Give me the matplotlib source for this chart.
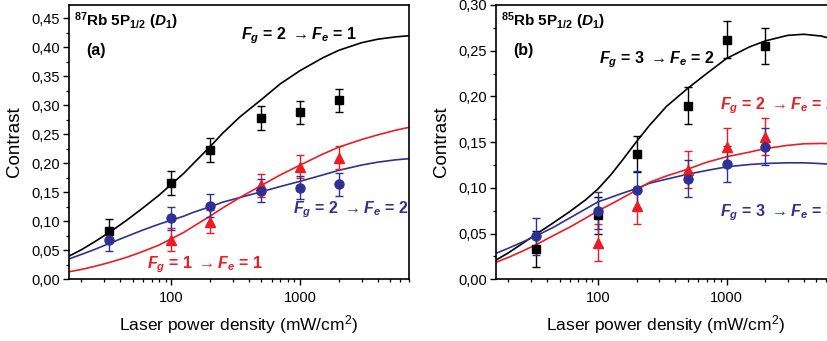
import matplotlib
matplotlib.use("Agg")
import matplotlib.pyplot as plt
from matplotlib.ticker import FuncFormatter, MultipleLocator, LogLocator, NullFormatter

plt.rcParams['font.family'] = ['Liberation Sans', 'DejaVu Sans']
plt.rcParams['mathtext.fontset'] = 'custom'
plt.rcParams['mathtext.rm'] = 'Liberation Sans:bold'
plt.rcParams['mathtext.bf'] = 'Liberation Sans:bold'
plt.rcParams['mathtext.it'] = 'Liberation Sans:bold:italic'

BLACK = '#000000'
RED = '#ed1c24'
BLUE = '#2e3192'

# ---- measured points: laser power density (mW/cm^2) ----
power = [33, 100, 200, 500, 1000, 2000]
power_no33 = [100, 200, 500, 1000, 2000]

# 87Rb, panel (a)
a_f21 = [0.084, 0.166, 0.223, 0.278, 0.288, 0.309]
a_f21_err = [0.020, 0.020, 0.020, 0.020, 0.020, 0.020]
a_f22 = [0.068, 0.105, 0.127, 0.153, 0.158, 0.164]
a_f22_err = [0.020, 0.020, 0.020, 0.020, 0.020, 0.020]
a_f11 = [0.068, 0.099, 0.162, 0.194, 0.210]
a_f11_err = [0.020, 0.020, 0.020, 0.020, 0.020]

# 85Rb, panel (b)
b_f32 = [0.033, 0.070, 0.137, 0.190, 0.262, 0.255]
b_f32_err = [0.020, 0.020, 0.020, 0.020, 0.020, 0.020]
b_f33 = [0.047, 0.075, 0.098, 0.110, 0.126, 0.145]
b_f33_err = [0.020, 0.020, 0.020, 0.020, 0.020, 0.020]
b_f22 = [0.040, 0.080, 0.120, 0.145, 0.156]
b_f22_err = [0.020, 0.020, 0.020, 0.020, 0.020]

# ---- model curves, sampled ----
curve_x = [16, 20, 25, 33, 45, 60, 80, 100, 125, 150, 200, 250, 340, 500, 700,
           1000, 1500, 2000, 3000, 4000, 5500, 7000]
a_fit21 = [0.040, 0.051, 0.064, 0.081, 0.102, 0.123, 0.145, 0.164, 0.183, 0.201,
           0.229, 0.252, 0.280, 0.310, 0.337, 0.360, 0.382, 0.395, 0.408,
           0.414, 0.418, 0.420]
a_fit22 = [0.035, 0.043, 0.051, 0.062, 0.074, 0.085, 0.095, 0.102, 0.109, 0.116,
           0.125, 0.133, 0.141, 0.151, 0.160, 0.169, 0.180, 0.188, 0.197,
           0.202, 0.206, 0.208]
a_fit11 = [0.013, 0.017, 0.022, 0.029, 0.038, 0.048, 0.059, 0.070, 0.081, 0.092,
           0.109, 0.123, 0.141, 0.162, 0.180, 0.197, 0.216, 0.228, 0.241,
           0.249, 0.257, 0.262]
b_fit32 = [0.021, 0.029, 0.038, 0.0495, 0.062, 0.074, 0.087, 0.099, 0.114, 0.128,
           0.151, 0.168, 0.189, 0.209, 0.225, 0.2415, 0.254, 0.2607, 0.2668,
           0.2680, 0.2660, 0.2620]
b_fit33 = [0.0284, 0.034, 0.040, 0.0476, 0.057, 0.067, 0.077, 0.0848, 0.0895,
           0.0935, 0.0994, 0.105, 0.1095, 0.115, 0.119, 0.123, 0.1255, 0.1267,
           0.1274, 0.1274, 0.1265, 0.1255]
b_fit22 = [0.0186, 0.024, 0.030, 0.038, 0.048, 0.057, 0.067, 0.075, 0.082,
           0.088, 0.0976, 0.106, 0.113, 0.1205, 0.128, 0.134, 0.139, 0.143,
           0.1465, 0.1482, 0.1486, 0.1482]

fig = plt.figure(figsize=(8.27, 3.41), dpi=100)
W, H = 827.0, 341.0
bottom = 1 - 279.3 / H
height = (279.3 - 5.0) / H
ax_a = fig.add_axes([69 / W, bottom, (409 - 69) / W, height])
ax_b = fig.add_axes([496 / W, bottom, (835 - 496) / W, height])

comma_fmt = FuncFormatter(lambda v, p: f"{v:.2f}".replace('.', ','))
int_fmt = FuncFormatter(lambda v, p: f"{v:.0f}")


def style_axes(ax, ymax):
    ax.set_xscale('log')
    ax.set_xlim(16, 7000)
    ax.set_ylim(0, ymax)
    ax.yaxis.set_major_locator(MultipleLocator(0.05))
    ax.yaxis.set_minor_locator(MultipleLocator(0.025))
    ax.yaxis.set_major_formatter(comma_fmt)
    ax.xaxis.set_major_locator(LogLocator(base=10, numticks=10))
    ax.xaxis.set_minor_locator(LogLocator(base=10, subs=range(2, 10), numticks=20))
    ax.xaxis.set_major_formatter(int_fmt)
    ax.xaxis.set_minor_formatter(NullFormatter())
    ax.tick_params(which='major', direction='out', length=4.5, width=1.0,
                   labelsize=10.5, pad=2)
    ax.tick_params(which='minor', direction='out', length=2.5, width=0.9)
    ax.tick_params(axis='x', which='major', pad=4)
    for s in ax.spines.values():
        s.set_linewidth(1.2)
    ax.set_xlabel('Laser power density (mW/cm$^\\mathregular{2}$)',
                  fontsize=12.5, labelpad=6)
    ax.set_ylabel('Contrast', fontsize=13.5, labelpad=6)


def draw_series(ax, x, y, err, color, marker, ms):
    ax.errorbar(x, y, yerr=err, fmt=marker, color=color, ms=ms,
                elinewidth=1.0, capsize=2.8, capthick=1.0, zorder=3)


style_axes(ax_a, 0.473)
style_axes(ax_b, 0.30)

# panel (a)
ax_a.plot(curve_x, a_fit21, color=BLACK, lw=1.2, zorder=2)
ax_a.plot(curve_x, a_fit22, color=BLUE, lw=1.2, zorder=2)
ax_a.plot(curve_x, a_fit11, color=RED, lw=1.2, zorder=2)
draw_series(ax_a, power, a_f21, a_f21_err, BLACK, 's', 5.5)
draw_series(ax_a, power_no33, a_f11, a_f11_err, RED, '^', 6.5)
draw_series(ax_a, power, a_f22, a_f22_err, BLUE, 'o', 6.5)

# panel (b)
ax_b.plot(curve_x, b_fit32, color=BLACK, lw=1.2, zorder=2)
ax_b.plot(curve_x, b_fit33, color=BLUE, lw=1.2, zorder=2)
ax_b.plot(curve_x, b_fit22, color=RED, lw=1.2, zorder=2)
draw_series(ax_b, power, b_f32, b_f32_err, BLACK, 's', 5.5)
draw_series(ax_b, power_no33, b_f22, b_f22_err, RED, '^', 6.5)
draw_series(ax_b, power, b_f33, b_f33_err, BLUE, 'o', 6.5)

# annotations
lab_kw = dict(fontweight='bold', transform=fig.transFigure,
              va='center', ha='left')


def fig_text(px, py, s, color='black', size=11.5):
    fig.text(px / W, 1 - py / H, s, color=color, fontsize=size, **lab_kw)


def transition(g, e):
    return rf'$F_g$ = {g} $\rightarrow F_e$ = {e}'


fig_text(74, 21, r'$^{87}$Rb 5P$_{1/2}$ ($D_1$)', size=11)
fig_text(86, 51, '(a)', size=11.5)
fig_text(241, 36, transition(2, 1))
fig_text(147, 265, transition(1, 1), color=RED)
fig_text(293, 210, transition(2, 2), color=BLUE)

fig_text(501, 21, r'$^{85}$Rb 5P$_{1/2}$ ($D_1$)', size=11)
fig_text(513, 51, '(b)', size=11.5)
fig_text(599, 60, transition(3, 2))
fig_text(720, 106, transition(2, 2), color=RED)
fig_text(720, 213, transition(3, 3), color=BLUE)

fig.savefig('out.png', dpi=100)
